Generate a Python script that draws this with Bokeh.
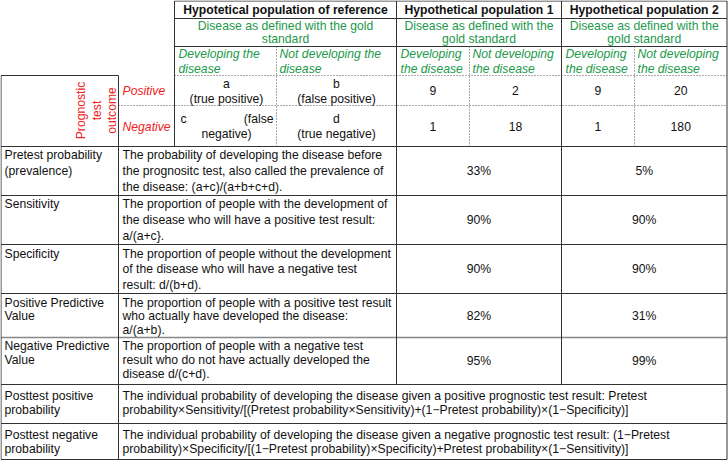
import math
from bokeh.plotting import figure
from bokeh.models import Range1d, ColumnDataSource
from bokeh.core.properties import value
from bokeh.embed import file_html
from bokeh.resources import INLINE

# ---------------- data ----------------
population_titles = ["Hypotetical population of reference", "Hypothetical population 1", "Hypothetical population 2"]
gold_standard_lines = [["Disease as defined with the gold", "standard"],
                       ["Disease as defined with the", "gold standard"],
                       ["Disease as defined with the", "gold standard"]]
developing_lines = [["Developing the", "disease"], ["Developing", "the disease"], ["Developing", "the disease"]]
not_developing_lines = [["Not developing the", "disease"], ["Not developing", "the disease"], ["Not developing", "the disease"]]
test_outcome_title = ["Prognostic", "test", "outcome"]
test_outcomes = ["Positive", "Negative"]
reference_cells = [["a", "(true positive)"], ["b", "(false positive)"], ["c", "(false", "negative)"], ["d", "(true negative)"]]
pop1_counts = [9, 2, 1, 18]     # a, b, c, d
pop2_counts = [9, 20, 1, 180]   # a, b, c, d
measure_names = [["Pretest probability", "(prevalence)"], ["Sensitivity"], ["Specificity"],
                 ["Positive Predictive", "Value"], ["Negative Predictive", "Value"],
                 ["Posttest positive", "probability"], ["Posttest negative", "probability"]]
measure_descriptions = [
    ["The probability of developing the disease before", "the prognositc test, also called the prevalence of", "the disease: (a+c)/(a+b+c+d)."],
    ["The proportion of people with the development of", "the disease who will have a positive test result:", "a/(a+c}."],
    ["The proportion of people without the development", "of the disease who will have a negative test", "result: d/(b+d)."],
    ["The proportion of people with a positive test result", "who actually have developed the disease:", "a/(a+b)."],
    ["The proportion of people with a negative test", "result who do not have actually developed the", "disease d/(c+d)."],
    ["The individual probability of developing the disease given a positive prognostic test result: Pretest",
     "probability\u00d7Sensitivity/[(Pretest probability\u00d7Sensitivity)+(1\u2212Pretest probability)\u00d7(1\u2212Specificity)]"],
    ["The individual probability of developing the disease given a negative prognostic test result: (1\u2212Pretest",
     "probability)\u00d7Specificity/[(1\u2212Pretest probability)\u00d7Specificity)+Pretest probability\u00d7(1\u2212Sensitivity)]"],
]
pop1_percent = [33, 90, 90, 82, 95]
pop2_percent = [5, 90, 90, 31, 99]

# ---------------- layout (pixel grid of the table) ----------------
W, H = 728, 460
X0, XL, XR = 0.5, 118, 174
pop_edges = [174, 396, 561, 726.5]
pop_splits = [276, 469, 634]
Y0, Y1, Y2, Y3, Y4, Y5 = 0.5, 18, 46, 75, 105, 146
row_edges = [146, 195, 244, 293, 337, 384, 423, 459]
row_first = [154, 203, 253, 302, 345, 395, 434]
row_step = [16, 16, 15.5, 13.5, 14, 14, 14]

FONT = value("Liberation Sans")
FS = value("12.2px")
BLACK = "#111111"
GREEN = "#22994a"
RED = "#ee2222"
LINE = "#333333"

p = figure(width=W, height=H, x_range=Range1d(0, W), y_range=Range1d(H, 0),
           output_backend="svg", toolbar_location=None, min_border=0,
           x_axis_location=None, y_axis_location=None)
p.grid.visible = False
p.outline_line_color = None
p.background_fill_color = "white"
p.border_fill_color = "white"


def seg(x0, y0, x1, y1, color=LINE, width=1, dash="solid"):
    src = ColumnDataSource(dict(x0=x0, y0=y0, x1=x1, y1=y1))
    p.segment("x0", "y0", "x1", "y1", source=src, line_color=color, line_width=width, line_dash=dash)


def txt(xs, ys, texts, align="left", color=BLACK, style="normal", angle=0.0):
    src = ColumnDataSource(dict(x=xs, y=ys, text=texts))
    p.text("x", "y", text="text", source=src, text_align=align, text_baseline="middle",
           text_font=FONT, text_font_size=FS, text_font_style=style, text_color=color, angle=angle)


# ---- solid grid lines ----
hx0, hy0, hx1, hy1 = [], [], [], []
for y in [Y0, Y1, Y2]:
    hx0.append(XR); hx1.append(pop_edges[-1]); hy0.append(y); hy1.append(y)
hx0.append(X0); hx1.append(XL); hy0.append(Y3); hy1.append(Y3)
for y in row_edges:
    if y == 337:
        continue
    hx0.append(X0); hx1.append(pop_edges[-1]); hy0.append(y); hy1.append(y)
seg(hx0, hy0, hx1, hy1)
seg([X0], [337], [pop_edges[-1]], [337], color="#888888", width=1.6)

vx, vy0, vy1 = [], [], []
vx += [X0, XL]; vy0 += [Y3, Y3]; vy1 += [row_edges[-1], row_edges[-1]]
vx += [XR]; vy0 += [Y0]; vy1 += [Y5]
vx += [pop_edges[1], pop_edges[2]]; vy0 += [Y0, Y0]; vy1 += [row_edges[5], row_edges[5]]
vx += [pop_edges[-1]]; vy0 += [Y0]; vy1 += [row_edges[-1]]
seg(vx, vy0, vx, vy1)

# ---- dotted lines ----
seg([XR, XL], [Y3, Y4], [pop_edges[-1], pop_edges[-1]], [Y3, Y4], color="#555555", width=1, dash="1 2")
seg(pop_splits, [Y2] * 3, pop_splits, [Y5] * 3, color="#555555", width=1, dash="1 2")

# ---- header texts ----
centers = [(pop_edges[i] + pop_edges[i + 1]) / 2 for i in range(3)]
txt(centers, [9.5] * 3, population_titles, align="center", style="bold")
gx, gy, gt = [], [], []
for c, lines in zip(centers, gold_standard_lines):
    for k, ln in enumerate(lines):
        gx.append(c); gy.append(25.5 + 13 * k); gt.append(ln)
txt(gx, gy, gt, align="center", color=GREEN)

dx, dy, dt = [], [], []
for i in range(3):
    for k, ln in enumerate(developing_lines[i]):
        dx.append(pop_edges[i] + 4); dy.append(53.5 + 14.5 * k); dt.append(ln)
    for k, ln in enumerate(not_developing_lines[i]):
        dx.append(pop_splits[i] + 3); dy.append(53.5 + 14.5 * k); dt.append(ln)
txt(dx, dy, dt, color=GREEN, style="italic")

# ---- test outcome labels ----
txt([80, 96, 111], [110] * 3, test_outcome_title, align="center", color=RED, angle=math.pi / 2)
txt([122, 122], [90, 126], test_outcomes, color=RED, style="italic")

# ---- reference 2x2 cells ----
left_c = (pop_edges[0] + pop_splits[0]) / 2 + 1
right_c = (pop_splits[0] + pop_edges[1]) / 2
txt([left_c, left_c, right_c, right_c, right_c, right_c, left_c],
    [83, 98, 83, 98, 118, 133, 133],
    [reference_cells[0][0], reference_cells[0][1], reference_cells[1][0], reference_cells[1][1],
     reference_cells[3][0], reference_cells[3][1], reference_cells[2][2]], align="center")
txt([pop_edges[0] + 6], [118], [reference_cells[2][0]])
txt([pop_splits[0] - 3], [118], [reference_cells[2][1]], align="right")

# ---- population counts ----
cx, cy, ct = [], [], []
for i, counts in enumerate([pop1_counts, pop2_counts]):
    a_c = (pop_edges[i + 1] + pop_splits[i + 1]) / 2
    b_c = (pop_splits[i + 1] + pop_edges[i + 2]) / 2
    for val, x, y in zip(counts, [a_c, b_c, a_c, b_c], [90, 90, 126, 126]):
        cx.append(x); cy.append(y); ct.append(str(val))
txt(cx, cy, ct, align="center")

# ---- measure rows ----
lx, ly, lt = [], [], []
for r, lines in enumerate(measure_names):
    for k, ln in enumerate(lines):
        lx.append(4); ly.append(row_first[r] + row_step[r] * k); lt.append(ln)
for r, lines in enumerate(measure_descriptions):
    for k, ln in enumerate(lines):
        lx.append(122); ly.append(row_first[r] + row_step[r] * k); lt.append(ln)
txt(lx, ly, lt)

px, py, pt = [], [], []
for r in range(len(pop1_percent)):
    ym = (row_edges[r] + row_edges[r + 1]) / 2
    px += [centers[1], centers[2]]
    py += [ym, ym]
    pt += [f"{pop1_percent[r]}%", f"{pop2_percent[r]}%"]
txt(px, py, pt, align="center")

open("out.html", "w").write(file_html(p, INLINE))
